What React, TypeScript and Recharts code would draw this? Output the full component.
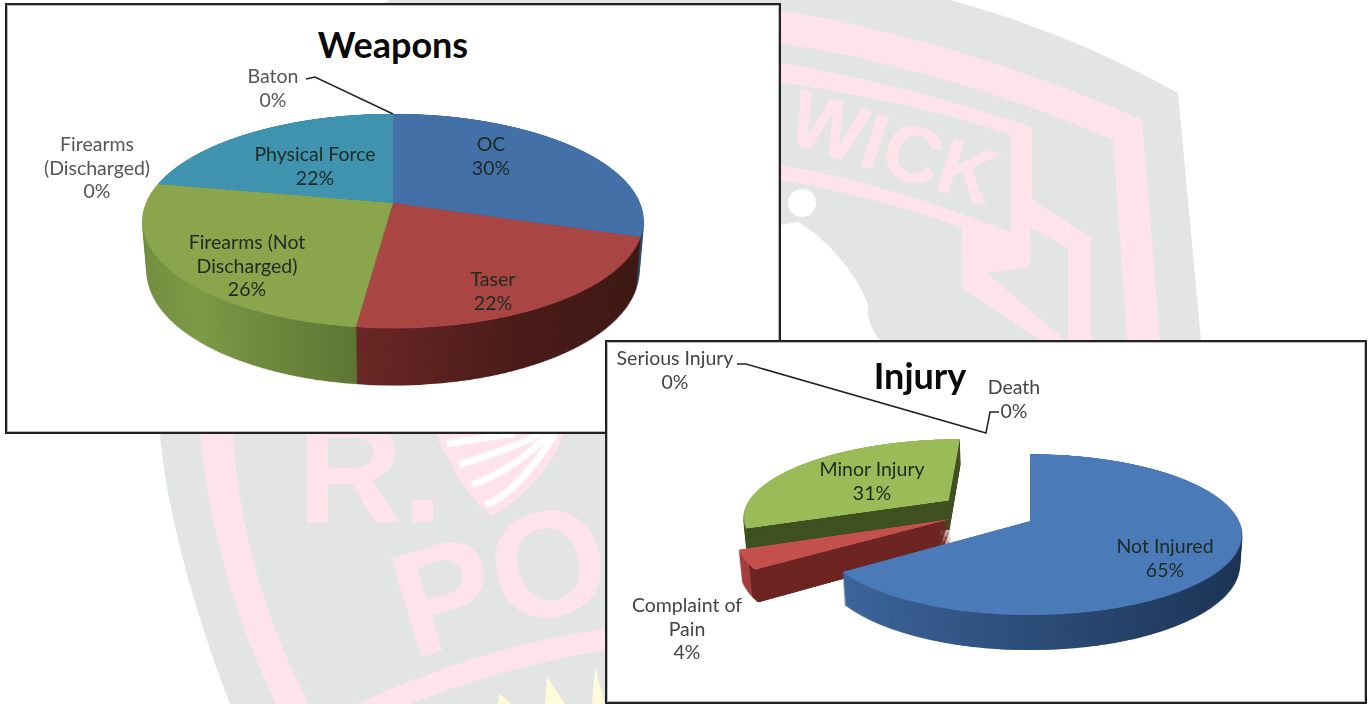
import { PieChart, Pie, Cell } from "recharts";

const weaponNames = ["OC", "Taser", "Firearms (Not Discharged)", "Firearms (Discharged)", "Physical Force", "Baton"];
const weaponValues = [30, 22, 26, 0, 22, 0];
const weaponTop = ["#4370a6", "#a94543", "#8aa54c", "#3f93ae", "#3f93ae", "#3f93ae"];
const weaponSide = ["#2b4a70", "url(#sideRed)", "url(#sideGreen)", "#2a6478", "#2a6478", "#2a6478"];
// centre x, centre y and wrap width of each label
const weaponLabels = [
  [491, 155, 100],
  [493, 290, 100],
  [247, 265, 130],
  [97, 167, 116],
  [315, 165, 140],
  [273, 87, 80],
];

const injuryNames = ["Not Injured", "Complaint of Pain", "Minor Injury", "Serious Injury", "Death"];
const injuryValues = [65, 4, 31, 0, 0];
const injuryTop = ["#4a7ab8", "#c4504e", "#9bbb59", "#9bbb59", "#9bbb59"];
const injurySide = ["url(#sideBlue)", "url(#sidePain)", "#3e5020", "#3e5020", "#3e5020"];
const injuryShift = [[0, 0], [-80, -5], [-85, -57], [0, 0], [0, 0]];
const injuryLabels = [
  [1165, 557, 120],
  [687, 628, 118],
  [872, 480, 130],
  [675, 369, 130],
  [1014, 398, 70],
];

const FONT = "Lato, 'Open Sans', sans-serif";

function toRows(names: string[], values: number[]) {
  return names.map((name, i) => ({ name, value: values[i] }));
}

interface DiscProps {
  data: { name: string; value: number }[];
  top: string[];
  side: string[];
  shifts?: number[][];
  cx: number;
  cy: number;
  radius: number;
  tilt: number;
  persp: number;
  depth: number;
  step: number;
}

/** Stack of flat pies in one 3D context, the last one is the top face. */
function Disc({ data, top, side, shifts, cx, cy, radius, tilt, persp, depth, step }: DiscProps) {
  const size = 2 * (radius + 110);
  const zs: number[] = [];
  for (let z = -depth; z < 0; z += step) zs.push(z);
  zs.push(0);
  const passes = shifts ? shifts.map((s, i) => ({ dx: s[0], dy: s[1], only: i })).reverse() : [{ dx: 0, dy: 0, only: -1 }];

  return (
    <div
      style={{
        position: "absolute",
        left: cx - size / 2,
        top: cy - size / 2,
        width: size,
        height: size,
        transform: `perspective(${persp}px) rotateX(${tilt}deg)`,
        transformStyle: "preserve-3d",
      }}
    >
      {zs.map((z) => {
        const colors = z === 0 ? top : side;
        return (
          <div key={z} style={{ position: "absolute", inset: 0, transform: `translateZ(${z}px)` }}>
            <PieChart width={size} height={size} margin={{ top: 0, right: 0, bottom: 0, left: 0 }}>
              {passes.map((p) => (
                <Pie
                  key={p.only}
                  data={data}
                  dataKey="value"
                  nameKey="name"
                  cx={size / 2 + p.dx}
                  cy={size / 2 + p.dy}
                  outerRadius={radius}
                  startAngle={90}
                  endAngle={-270}
                  stroke="none"
                  labelLine={false}
                  isAnimationActive={false}
                >
                  {data.map((d, i) => (
                    <Cell key={d.name} fill={p.only < 0 || p.only === i ? colors[i] : "none"} stroke="none" />
                  ))}
                </Pie>
              ))}
            </PieChart>
          </div>
        );
      })}
    </div>
  );
}

function Labels({ names, values, spots, color }: { names: string[]; values: number[]; spots: number[][]; color: (i: number) => string }) {
  return (
    <>
      {names.map((name, i) => (
        <div
          key={name}
          style={{
            position: "absolute",
            left: spots[i][0],
            top: spots[i][1],
            width: spots[i][2],
            transform: "translate(-50%, -50%)",
            textAlign: "center",
            fontFamily: FONT,
            fontSize: 19.5,
            lineHeight: "23.5px",
            color: color(i),
          }}
        >
          {name}
          <br />
          {values[i]}%
        </div>
      ))}
    </>
  );
}

function Watermark() {
  return (
    <svg width={1371} height={704} style={{ position: "absolute", left: 0, top: 0 }}>
      <defs>
        <linearGradient id="sideRed" x1="0" y1="0" x2="1" y2="0">
          <stop offset="0" stopColor="#6a2725" />
          <stop offset="0.5" stopColor="#4a1b18" />
          <stop offset="1" stopColor="#3c1712" />
        </linearGradient>
        <linearGradient id="sideGreen" x1="0" y1="0" x2="1" y2="0">
          <stop offset="0" stopColor="#6f8b3e" />
          <stop offset="0.3" stopColor="#7c9a45" />
          <stop offset="1" stopColor="#566d2f" />
        </linearGradient>
        <linearGradient id="sideBlue" x1="0" y1="0" x2="1" y2="0">
          <stop offset="0" stopColor="#3c659b" />
          <stop offset="0.45" stopColor="#2b4c78" />
          <stop offset="1" stopColor="#1a3050" />
        </linearGradient>
        <linearGradient id="sidePain" x1="0" y1="0" x2="1" y2="0">
          <stop offset="0" stopColor="#a53c3a" />
          <stop offset="0.09" stopColor="#a53c3a" />
          <stop offset="0.091" stopColor="#6c2421" />
          <stop offset="1" stopColor="#6c2421" />
        </linearGradient>
      </defs>
      <path d="M230 704C190 600 165 500 160 434L150 340L160 100L390 0L950 0C1040 25 1110 55 1178 93L1201 340L1201 704Z" fill="#e3e4e4" />
      {/* right hand bands */}
      <path d="M780 10C900 30 1030 70 1142 120L1160 340L1127 340L1113 140C1010 95 890 60 780 43Z" fill="#ffe3ea" />
      <path d="M780 63C870 78 950 100 1032 127L1032 200L1091 238L1091 340L1068 340L1068 248L1030 227L1030 267L987 273L1065 340L1040 340L962 287L962 228C900 205 840 190 780 180L780 165C860 178 940 205 1011 232L1011 135C940 110 860 95 780 82Z" fill="#ffe3ea" />
      <text x={893} y={175} fontFamily="Liberation Sans" fontWeight={700} fontSize={80} fill="#ffe3ea" textAnchor="middle" transform="rotate(18 893 150)">WICK</text>
      <circle cx={802} cy={203} r={14} fill="#fff" />
      <path d="M780 225L798 222C830 240 860 280 868 305C866 320 875 335 880 340L780 340Z" fill="#fff" />
      {/* lower left bands */}
      <path d="M200 434L233 434C240 540 270 630 309 704L276 704C235 620 210 530 200 434Z" fill="#ffe3ea" />
      <path d="M358 704C430 670 520 640 610 628L610 650C540 660 470 680 410 704Z" fill="#ffe3ea" />
      <text x={297} y={522} fontFamily="Liberation Sans" fontWeight={700} fontSize={146} fill="#ffe3ea">R.</text>
      <text x={412} y={660} fontFamily="Liberation Sans" fontWeight={700} fontSize={150} fill="#ffe3ea" transform="rotate(-17 412 660)">PO</text>
      <path d="M436 434L564 434C550 470 520 500 492 516C470 500 450 465 436 434Z" fill="#ffe3ea" />
      <path d="M447 444C470 440 495 436 515 434M459 465C490 455 520 445 540 434M472 485C500 475 530 455 548 434M486 505C510 495 535 465 555 434" stroke="#fff" strokeWidth={7} fill="none" />
      <path d="M498 704L499 694L512 704ZM545 704L547 677L565 704ZM592 704L595 667L605 704Z" fill="#fdfbd8" />
    </svg>
  );
}

function Box({ x, y, w, h }: { x: number; y: number; w: number; h: number }) {
  return (
    <div
      style={{
        position: "absolute",
        left: x,
        top: y,
        width: w,
        height: h,
        boxSizing: "border-box",
        background: "#fff",
        border: "2px solid #222",
        boxShadow: "inset 0 0 0 1px #bbb",
      }}
    />
  );
}

function Title({ text, x, y, size }: { text: string; x: number; y: number; size: number }) {
  return (
    <div
      style={{
        position: "absolute",
        left: x,
        top: y,
        transform: "translate(-50%, -50%)",
        fontFamily: FONT,
        fontWeight: 700,
        fontSize: size,
        color: "#0a0a0a",
        whiteSpace: "nowrap",
      }}
    >
      {text}
    </div>
  );
}

export default function App() {
  return (
    <div style={{ position: "absolute", left: 0, top: 0, width: 1371, height: 704, overflow: "hidden", background: "#fff" }}>
      <Watermark />

      <Box x={5} y={3} w={776} h={431} />
      <Title text="Weapons" x={393} y={44} size={36} />
      <Disc data={toRows(weaponNames, weaponValues)} top={weaponTop} side={weaponSide} cx={393} cy={203} radius={247} tilt={65} persp={1334} depth={56} step={1.5} />
      <Labels names={weaponNames} values={weaponValues} spots={weaponLabels} color={(i) => (i === 3 || i === 5 ? "#555" : "#1d2b22")} />
      <svg width={1371} height={704} style={{ position: "absolute", left: 0, top: 0, pointerEvents: "none" }}>
        <polyline points="306,79 315,77 393,114" fill="none" stroke="#222" strokeWidth={1.5} />
      </svg>

      <Box x={605} y={340} w={762} h={364} />
      <Title text="Injury" x={920} y={375} size={36} />
      <Disc data={toRows(injuryNames, injuryValues)} top={injuryTop} side={injurySide} shifts={injuryShift} cx={1030} cy={521} radius={209} tilt={68} persp={1153} depth={33} step={1} />
      <Labels names={injuryNames} values={injuryValues} spots={injuryLabels} color={(i) => (i === 0 || i === 2 ? "#1d2b22" : "#444")} />
      <svg width={1371} height={704} style={{ position: "absolute", left: 0, top: 0, pointerEvents: "none" }}>
        <polyline points="737,364 746,364 986,433 990,412 999,412" fill="none" stroke="#222" strokeWidth={1.5} />
      </svg>
    </div>
  );
}
